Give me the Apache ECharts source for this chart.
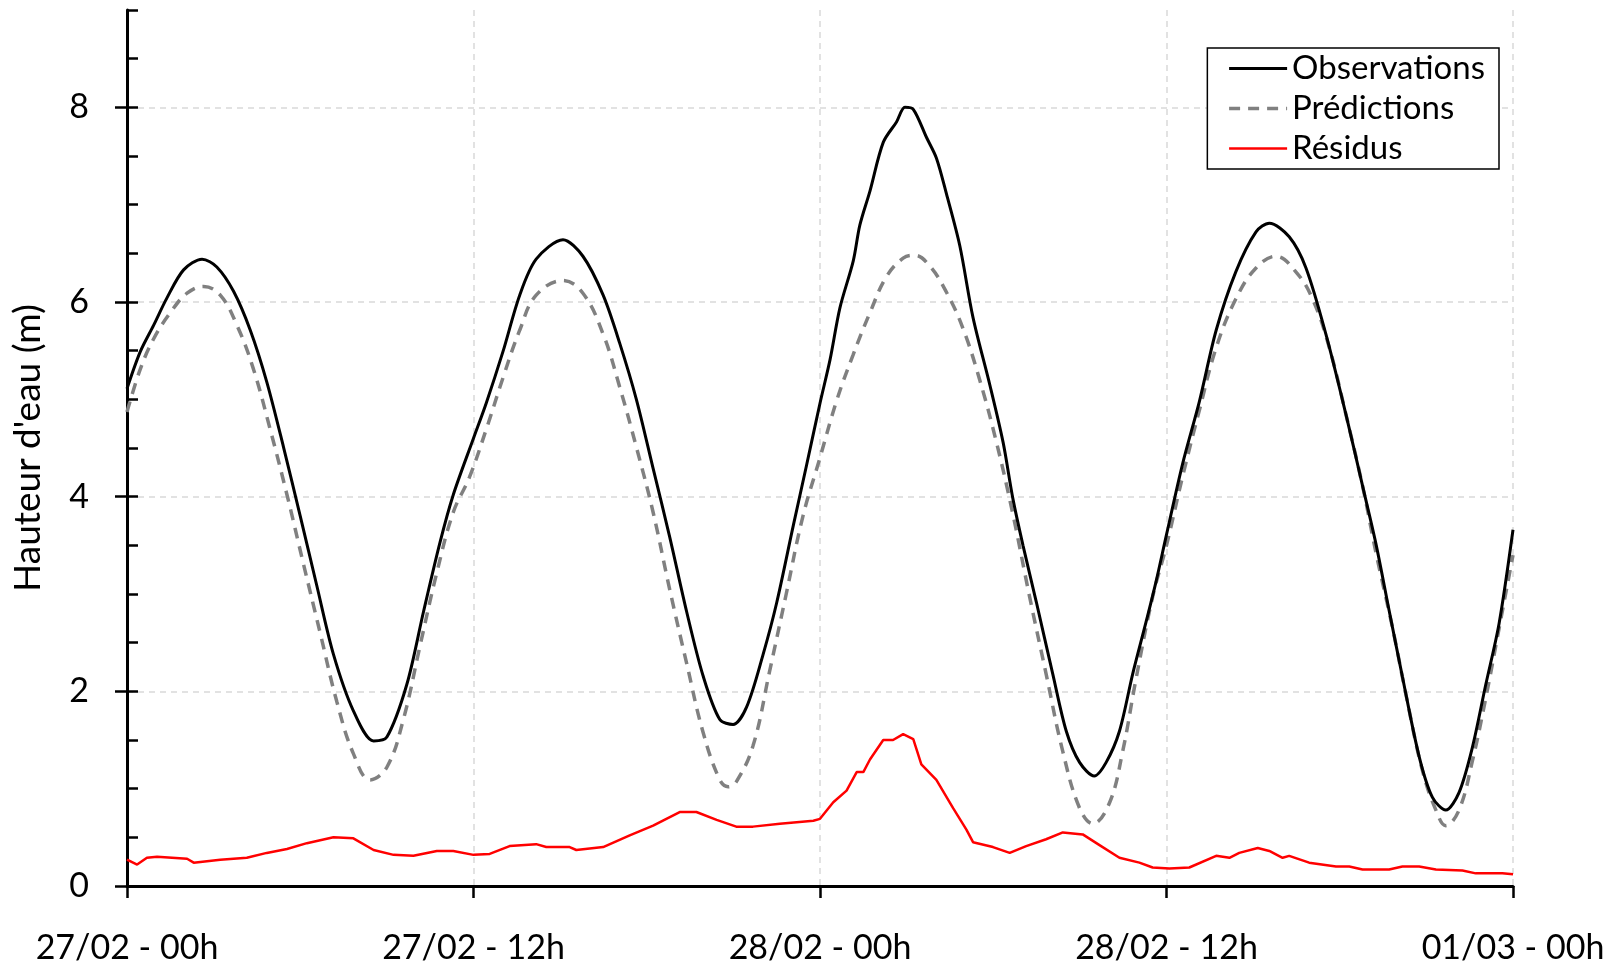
<!DOCTYPE html>
<html><head><meta charset="utf-8">
<script src="https://cdn.jsdelivr.net/npm/echarts/dist/echarts.min.js"></script>
<style>html,body{margin:0;padding:0;background:#fff}#c{width:1623px;height:968px}</style>
</head><body><div id="c"></div><script>
// Tick labels (x axis, every 12 h)
const xTickLabels = ['27/02 - 00h', '27/02 - 12h', '28/02 - 00h', '28/02 - 12h', '01/03 - 00h'];
const yTitle = "Hauteur d'eau (m)";
const seriesNames = ['Observations', 'Prédictions', 'Résidus'];

// Observations: hours since 27/02 00h, water level (m)
const obsHours = [0,0.46,0.92,1.38,1.96,2.6,3.11,3.69,4.27,4.84,5.42,6.0,6.57,7.15,7.84,8.54,9.0,9.69,10.27,10.84,11.3,12.0,12.44,13.02,13.6,14.17,15.1,15.79,16.49,17.06,17.64,18.22,18.8,19.38,19.95,20.53,20.99,21.46,22.03,22.5,23.08,23.54,24.0,24.35,24.69,25.15,25.38,25.73,26.19,26.65,26.94,27.23,27.69,28.03,28.38,28.84,29.3,29.88,30.34,30.68,31.03,31.49,32.06,32.53,32.99,33.5,33.91,34.37,34.83,35.29,35.64,36.0,36.56,37.14,37.72,38.4,39.1,39.56,40.25,40.83,41.52,42.21,42.79,43.25,43.71,44.17,44.75,45.21,45.67,46.13,46.59,47.05,47.52,48];
const obsLevels = [5.11,5.49,5.76,6.04,6.33,6.44,6.36,6.11,5.71,5.18,4.51,3.8,3.09,2.38,1.8,1.49,1.53,2.07,2.82,3.53,4.02,4.6,4.96,5.49,6.07,6.44,6.64,6.47,6.07,5.58,5.0,4.29,3.58,2.82,2.16,1.71,1.66,1.84,2.38,2.91,3.71,4.33,4.96,5.41,5.94,6.42,6.79,7.14,7.64,7.85,8.0,7.98,7.69,7.48,7.11,6.58,5.84,5.15,4.56,3.98,3.5,2.92,2.18,1.59,1.27,1.13,1.27,1.59,2.18,2.71,3.13,3.61,4.34,4.98,5.71,6.31,6.72,6.81,6.67,6.35,5.67,4.85,4.11,3.52,2.83,2.15,1.33,0.91,0.78,0.96,1.42,2.06,2.7,3.66];

// Predictions
const predHours = [0,0.46,0.92,1.5,2.08,2.65,3.23,3.81,4.38,4.96,5.54,6.11,6.69,7.27,7.84,8.42,9.0,9.57,10.15,10.73,11.3,11.86,12.44,13.02,13.6,14.17,15.1,15.79,16.49,17.06,17.64,18.22,18.8,19.38,19.95,20.53,20.82,21.1,21.68,22.25,22.83,23.41,24.0,24.58,25.15,25.73,26.3,26.88,27.28,27.8,28.38,28.95,29.53,30.11,30.68,31.26,31.83,32.41,32.99,33.45,34.02,34.48,34.94,35.52,36.0,36.56,37.14,37.72,38.4,39.1,39.79,40.48,41.06,41.64,42.21,42.79,43.25,43.83,44.29,44.86,45.33,45.67,46.13,46.59,47.05,47.52,48];
const predLevels = [4.87,5.31,5.62,5.89,6.09,6.16,6.07,5.76,5.31,4.69,4.02,3.31,2.6,1.89,1.36,1.09,1.22,1.71,2.47,3.22,3.84,4.2,4.69,5.22,5.71,6.07,6.22,6.09,5.67,5.13,4.51,3.84,3.04,2.29,1.58,1.09,1.02,1.07,1.44,2.2,3.0,3.8,4.4,4.99,5.46,5.89,6.26,6.45,6.48,6.37,6.1,5.73,5.2,4.56,3.82,2.97,2.18,1.38,0.8,0.64,0.85,1.38,2.12,2.97,3.5,4.21,4.89,5.53,6.03,6.35,6.47,6.31,6.03,5.53,4.85,4.11,3.43,2.65,1.97,1.19,0.78,0.62,0.78,1.28,1.92,2.65,3.4];

// Residuals
const resHours = [0,0.35,0.69,1.04,2.08,2.31,3.23,4.15,4.84,5.54,6.23,7.15,7.84,8.54,9.23,9.92,10.73,11.3,12.0,12.56,13.25,14.17,14.52,15.33,15.56,16.49,17.41,18.22,19.14,19.72,20.42,21.1,21.68,22.61,23.77,24.0,24.46,24.92,25.27,25.5,25.73,26.19,26.53,26.88,27.23,27.51,28.03,28.61,29.07,29.3,29.99,30.57,31.14,31.83,32.41,33.1,33.68,34.37,35.06,35.52,36.1,36.79,37.72,38.18,38.52,39.16,39.56,40.02,40.25,40.94,41.87,42.33,42.79,43.71,44.17,44.75,45.33,46.25,46.71,47.63,48];
const resLevels = [0.27,0.22,0.29,0.30,0.28,0.24,0.27,0.29,0.34,0.38,0.44,0.50,0.49,0.37,0.32,0.31,0.36,0.36,0.32,0.33,0.41,0.43,0.40,0.40,0.37,0.40,0.52,0.62,0.76,0.76,0.68,0.61,0.61,0.64,0.67,0.69,0.86,0.98,1.17,1.17,1.30,1.50,1.50,1.56,1.51,1.25,1.09,0.80,0.58,0.45,0.40,0.34,0.41,0.48,0.55,0.53,0.42,0.29,0.24,0.19,0.18,0.19,0.31,0.29,0.34,0.39,0.36,0.29,0.31,0.24,0.20,0.20,0.17,0.17,0.20,0.20,0.17,0.16,0.13,0.13,0.12];

const zip = (a, b) => a.map((x, i) => [x, b[i]]);
const FONT = 'Lato, "Open Sans", sans-serif';
const gridLine = {show: true, lineStyle: {color: '#d9d9d9', type: [6, 5], width: 1.5}};
const obsStyle = {color: '#000000', width: 3};
const predStyle = {color: '#808080', width: 3.5, type: [11, 8]};
const resStyle = {color: '#ff0000', width: 2.5};

const chart = echarts.init(document.getElementById('c'), null, {renderer: 'canvas'});
chart.setOption({
  animation: false,
  backgroundColor: '#ffffff',
  grid: [
    {left: 127, right: 110, top: 10, bottom: 82, outerBoundsMode: 'none', containLabel: false},
    {left: 127, right: 110, top: 107.3, bottom: 82, outerBoundsMode: 'none', containLabel: false}
  ],
  xAxis: [
    {gridIndex: 0, type: 'value', min: 0, max: 48, interval: 12,
     axisLine: {show: true, lineStyle: {color: '#000', width: 3}},
     axisTick: {show: true, inside: false, length: 12, lineStyle: {color: '#000', width: 2.5}},
     axisLabel: {formatter: v => xTickLabels[Math.round(v / 12)], fontFamily: FONT, fontSize: 34, color: '#000', margin: 45},
     splitLine: gridLine},
    {gridIndex: 1, type: 'value', min: 0, max: 48, show: false}
  ],
  yAxis: [
    {gridIndex: 0, type: 'value', min: 0, max: 9, interval: 0.5,
     name: yTitle, nameLocation: 'middle', nameGap: 80, nameRotate: 90,
     nameTextStyle: {fontFamily: FONT, fontSize: 37, color: '#000'},
     axisLine: {show: true, lineStyle: {color: '#000', width: 3}},
     axisTick: {show: true, inside: true, length: 11, lineStyle: {color: '#000', width: 2.5}},
     axisLabel: {show: false}, splitLine: {show: false}},
    {gridIndex: 1, type: 'value', min: 0, max: 8, interval: 2,
     axisLine: {show: false},
     axisTick: {show: true, inside: false, length: 12, lineStyle: {color: '#000', width: 2.5}},
     axisLabel: {fontFamily: FONT, fontSize: 34, color: '#000', margin: 38},
     splitLine: gridLine}
  ],
  legend: {
    orient: 'vertical', right: 124, top: 48,
    itemWidth: 58, itemHeight: 14, itemGap: 7,
    padding: [4, 14, 4, 20],
    borderColor: '#000', borderWidth: 1.5, backgroundColor: '#fff',
    itemStyle: {opacity: 0},
    textStyle: {fontFamily: FONT, fontSize: 33, color: '#000', lineHeight: 33},
    data: [
      {name: seriesNames[0], lineStyle: obsStyle, itemStyle: {opacity: 0}},
      {name: seriesNames[1], lineStyle: predStyle, itemStyle: {opacity: 0}},
      {name: seriesNames[2], lineStyle: resStyle, itemStyle: {opacity: 0}}
    ]
  },
  series: [
    {name: seriesNames[0], type: 'line', xAxisIndex: 0, yAxisIndex: 0, data: zip(obsHours, obsLevels),
     symbol: 'none', smooth: 0.3, lineStyle: obsStyle, itemStyle: {color: '#000'}, z: 4},
    {name: seriesNames[1], type: 'line', xAxisIndex: 0, yAxisIndex: 0, data: zip(predHours, predLevels),
     symbol: 'none', smooth: 0.4, lineStyle: predStyle, itemStyle: {color: '#808080'}, z: 3},
    {name: seriesNames[2], type: 'line', xAxisIndex: 0, yAxisIndex: 0, data: zip(resHours, resLevels),
     symbol: 'none', lineStyle: resStyle, itemStyle: {color: '#ff0000'}, z: 5}
  ]
});
</script></body></html>
